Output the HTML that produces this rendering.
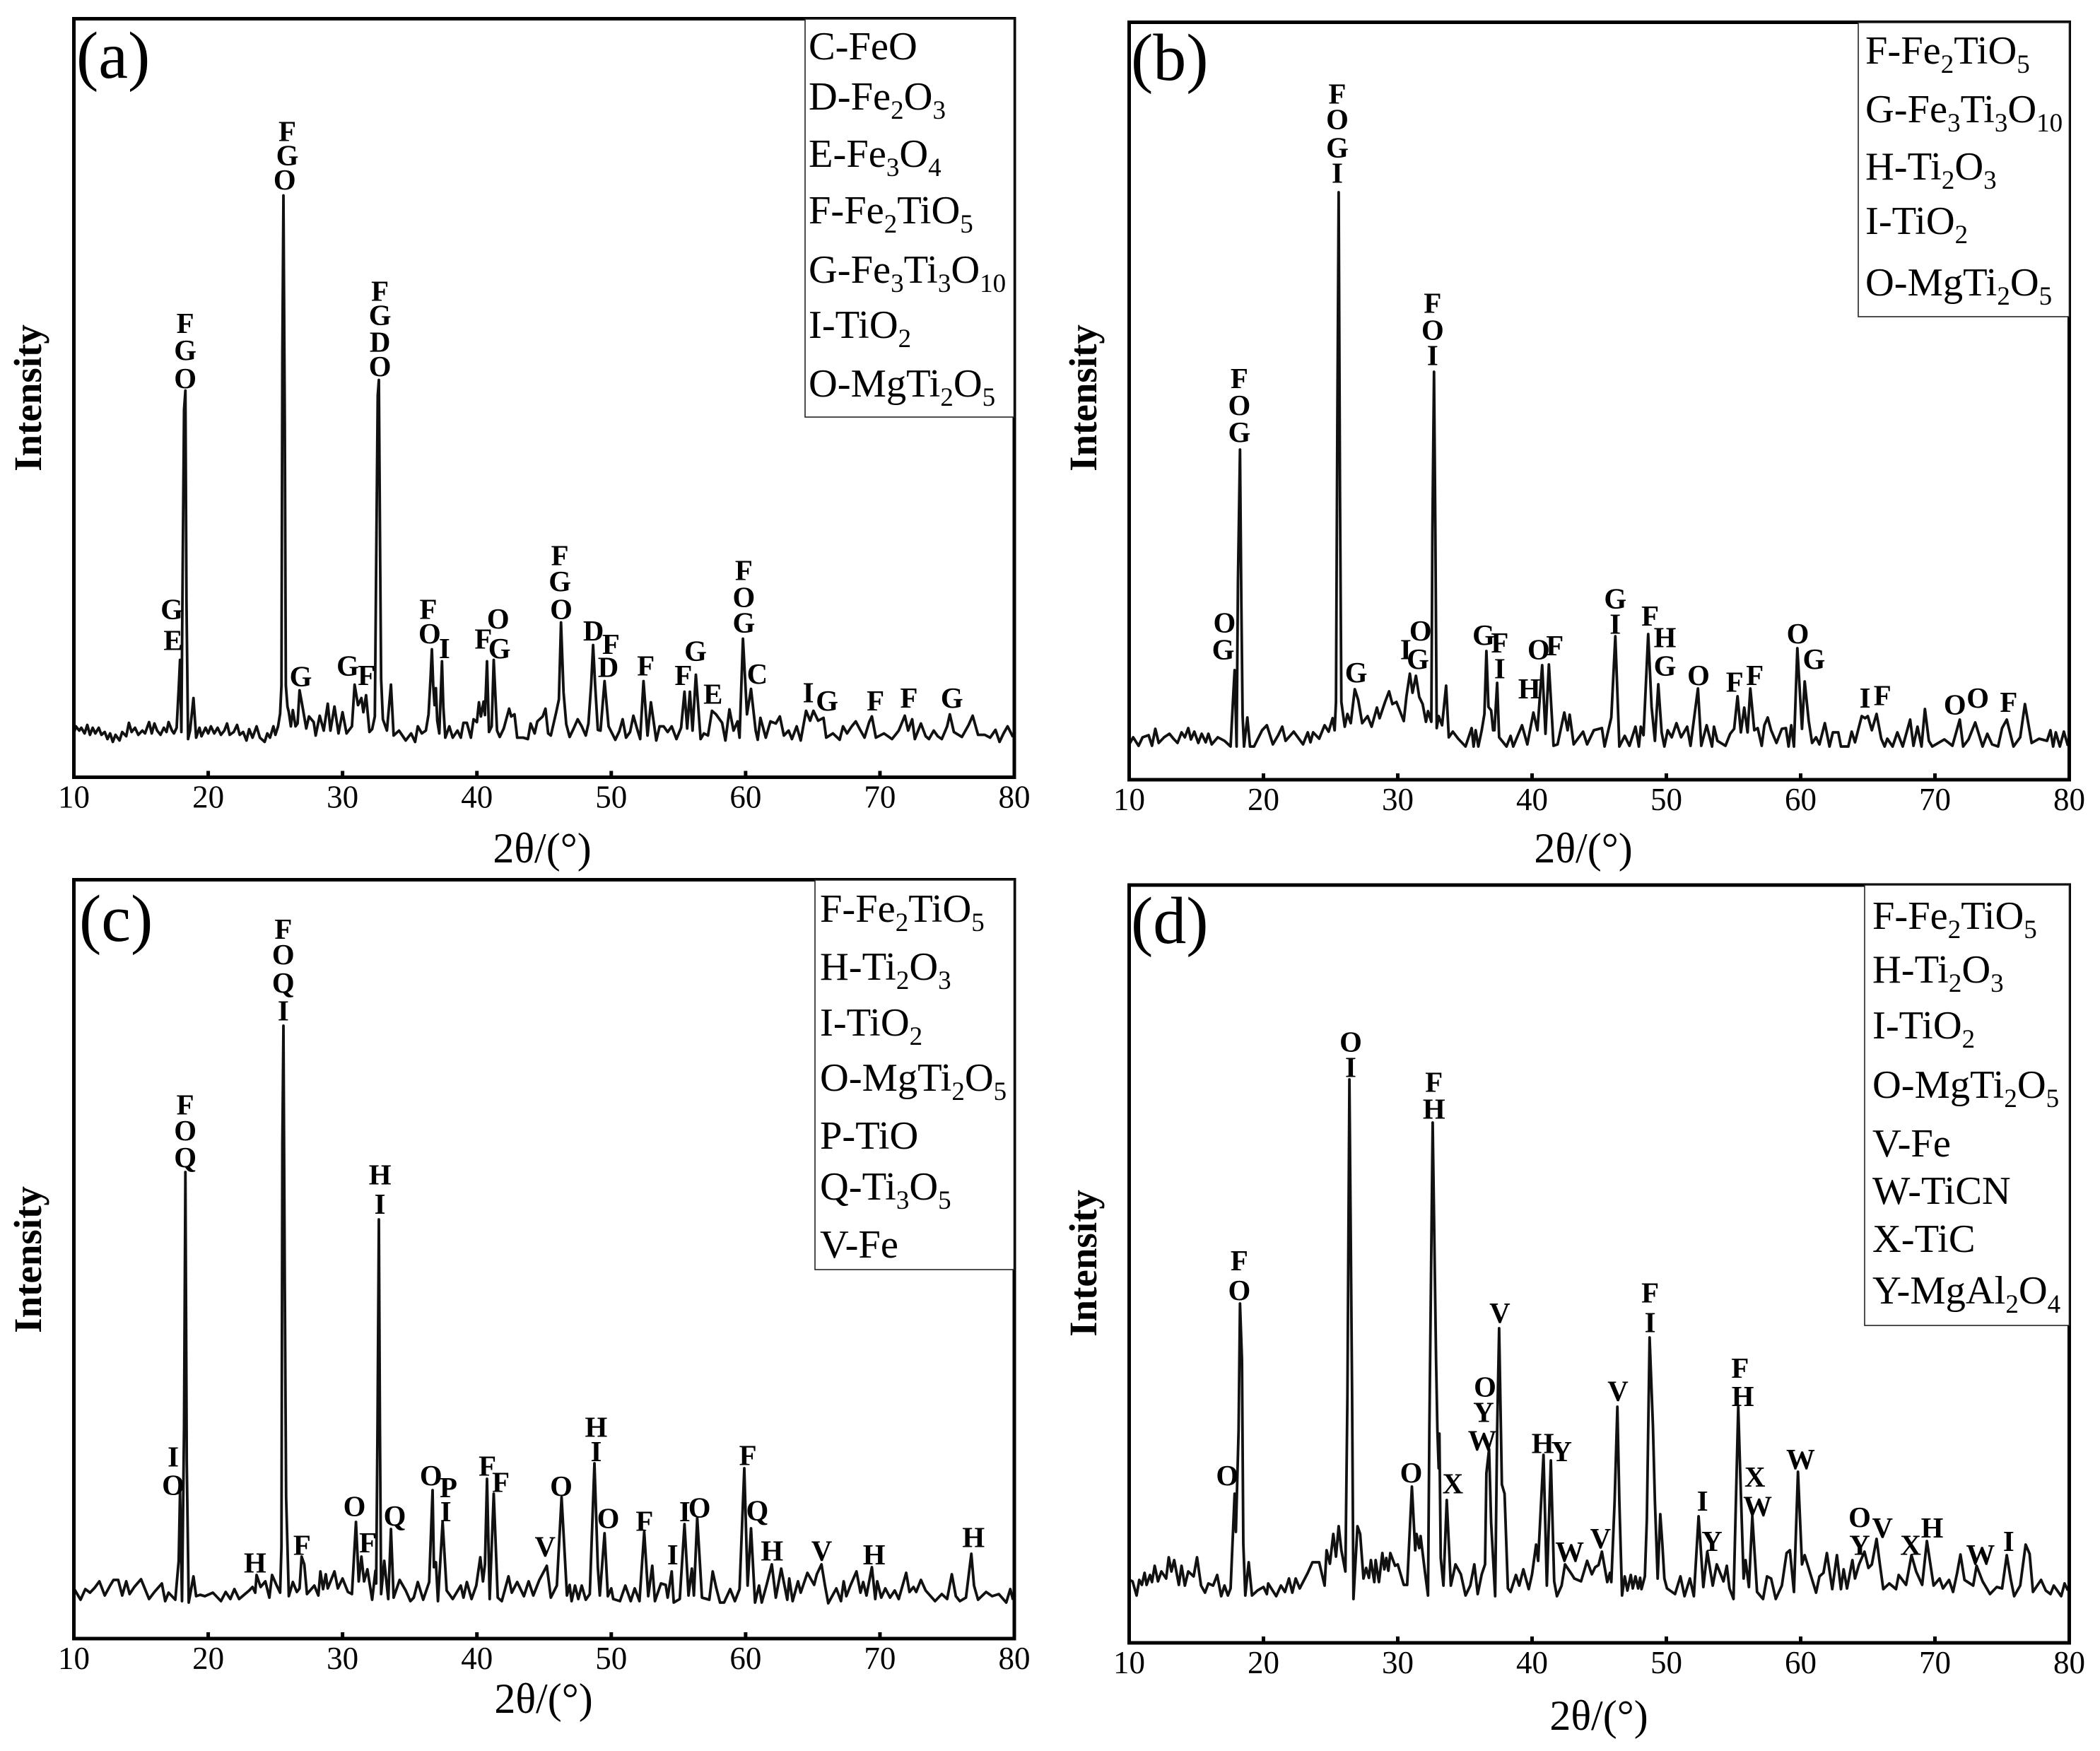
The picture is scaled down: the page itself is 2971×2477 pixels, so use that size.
<!DOCTYPE html>
<html lang="en">
<head>
<meta charset="utf-8">
<title>XRD patterns (a)-(d)</title>
<style>
html,body{margin:0;padding:0;background:#fff;}
svg{display:block;}
text{font-family:"Liberation Serif","Times New Roman",serif;fill:#000;}
.pk text{font-size:21.5px;font-weight:bold;text-anchor:middle;}
.leg{font-size:56.5px;}
.tag{font-size:94px;}
.xt{font-size:60px;text-anchor:middle;}
.yt{font-size:55px;font-weight:bold;text-anchor:middle;}
.tick{font-size:45px;text-anchor:middle;}
</style>
</head>
<body>
<svg id="chart" xmlns="http://www.w3.org/2000/svg" width="2971" height="2477" viewBox="0 0 2971 2477">
<rect width="2971" height="2477" fill="#fff"/>
<g id="plots"></g>

<!-- panel tags -->
<text class="tag" x="108" y="110">(a)</text>
<text class="tag" x="1600" y="113">(b)</text>
<text class="tag" x="112" y="1331">(c)</text>
<text class="tag" x="1600" y="1334">(d)</text>

<!-- axis titles -->
<text class="xt" x="767" y="1220">2θ/(°)</text>
<text class="xt" x="2240" y="1220">2θ/(°)</text>
<text class="xt" x="769" y="2423">2θ/(°)</text>
<text class="xt" x="2262" y="2447">2θ/(°)</text>
<text class="yt" transform="translate(58,563) rotate(-90)">Intensity</text>
<text class="yt" transform="translate(1551,563) rotate(-90)">Intensity</text>
<text class="yt" transform="translate(58,1782) rotate(-90)">Intensity</text>
<text class="yt" transform="translate(1551,1787) rotate(-90)">Intensity</text>

<!-- legends -->
<g>
<rect x="1139" y="27" width="295.5" height="563" fill="#fff" stroke="#222" stroke-width="1.6"/>
<text class="leg" x="1144" y="84">C-FeO</text>
<text class="leg" x="1144" y="155">D-Fe<tspan dy="13" font-size="37">2</tspan><tspan dy="-13">O</tspan><tspan dy="13" font-size="37">3</tspan></text>
<text class="leg" x="1144" y="236">E-Fe<tspan dy="13" font-size="37">3</tspan><tspan dy="-13">O</tspan><tspan dy="13" font-size="37">4</tspan></text>
<text class="leg" x="1144" y="316">F-Fe<tspan dy="13" font-size="37">2</tspan><tspan dy="-13">TiO</tspan><tspan dy="13" font-size="37">5</tspan></text>
<text class="leg" x="1144" y="400">G-Fe<tspan dy="13" font-size="37">3</tspan><tspan dy="-13">Ti</tspan><tspan dy="13" font-size="37">3</tspan><tspan dy="-13">O</tspan><tspan dy="13" font-size="37">10</tspan></text>
<text class="leg" x="1144" y="478">I-TiO<tspan dy="13" font-size="37">2</tspan></text>
<text class="leg" x="1144" y="561">O-MgTi<tspan dy="13" font-size="37">2</tspan><tspan dy="-13">O</tspan><tspan dy="13" font-size="37">5</tspan></text>
</g>
<g>
<rect x="2629" y="32" width="298.5" height="416" fill="#fff" stroke="#222" stroke-width="1.6"/>
<text class="leg" x="2639" y="90">F-Fe<tspan dy="13" font-size="37">2</tspan><tspan dy="-13">TiO</tspan><tspan dy="13" font-size="37">5</tspan></text>
<text class="leg" x="2639" y="173">G-Fe<tspan dy="13" font-size="37">3</tspan><tspan dy="-13">Ti</tspan><tspan dy="13" font-size="37">3</tspan><tspan dy="-13">O</tspan><tspan dy="13" font-size="37">10</tspan></text>
<text class="leg" x="2639" y="254">H-Ti<tspan dy="13" font-size="37">2</tspan><tspan dy="-13">O</tspan><tspan dy="13" font-size="37">3</tspan></text>
<text class="leg" x="2639" y="331">I-TiO<tspan dy="13" font-size="37">2</tspan></text>
<text class="leg" x="2639" y="418">O-MgTi<tspan dy="13" font-size="37">2</tspan><tspan dy="-13">O</tspan><tspan dy="13" font-size="37">5</tspan></text>
</g>
<g>
<rect x="1153" y="1245" width="281.5" height="551" fill="#fff" stroke="#222" stroke-width="1.6"/>
<text class="leg" x="1160" y="1304">F-Fe<tspan dy="13" font-size="37">2</tspan><tspan dy="-13">TiO</tspan><tspan dy="13" font-size="37">5</tspan></text>
<text class="leg" x="1160" y="1386">H-Ti<tspan dy="13" font-size="37">2</tspan><tspan dy="-13">O</tspan><tspan dy="13" font-size="37">3</tspan></text>
<text class="leg" x="1160" y="1465">I-TiO<tspan dy="13" font-size="37">2</tspan></text>
<text class="leg" x="1160" y="1543">O-MgTi<tspan dy="13" font-size="37">2</tspan><tspan dy="-13">O</tspan><tspan dy="13" font-size="37">5</tspan></text>
<text class="leg" x="1160" y="1625">P-TiO</text>
<text class="leg" x="1160" y="1697">Q-Ti<tspan dy="13" font-size="37">3</tspan><tspan dy="-13">O</tspan><tspan dy="13" font-size="37">5</tspan></text>
<text class="leg" x="1160" y="1779">V-Fe</text>
</g>
<g>
<rect x="2638" y="1252" width="289.5" height="623" fill="#fff" stroke="#222" stroke-width="1.6"/>
<text class="leg" x="2649" y="1314">F-Fe<tspan dy="13" font-size="37">2</tspan><tspan dy="-13">TiO</tspan><tspan dy="13" font-size="37">5</tspan></text>
<text class="leg" x="2649" y="1390">H-Ti<tspan dy="13" font-size="37">2</tspan><tspan dy="-13">O</tspan><tspan dy="13" font-size="37">3</tspan></text>
<text class="leg" x="2649" y="1469">I-TiO<tspan dy="13" font-size="37">2</tspan></text>
<text class="leg" x="2649" y="1553">O-MgTi<tspan dy="13" font-size="37">2</tspan><tspan dy="-13">O</tspan><tspan dy="13" font-size="37">5</tspan></text>
<text class="leg" x="2649" y="1636">V-Fe</text>
<text class="leg" x="2649" y="1703">W-TiCN</text>
<text class="leg" x="2649" y="1771">X-TiC</text>
<text class="leg" x="2649" y="1844">Y-MgAl<tspan dy="13" font-size="37">2</tspan><tspan dy="-13">O</tspan><tspan dy="13" font-size="37">4</tspan></text>
</g>

<!-- peak labels -->
<g class="pk" transform="scale(1.8996) translate(0,7)">
<g>
<text x="138" y="241">F</text><text x="138" y="261">G</text><text x="138" y="282">O</text>
<text x="128" y="454">G</text><text x="129" y="477">E</text>
<text x="214" y="98">F</text><text x="214" y="116">G</text><text x="212" y="134">O</text>
<text x="283" y="217">F</text><text x="283" y="235">G</text><text x="283" y="255">D</text><text x="283" y="273">O</text>
<text x="224" y="504">G</text><text x="259" y="496">G</text><text x="273" y="503">F</text>
<text x="319" y="454">F</text><text x="320" y="472">O</text><text x="331" y="483">I</text>
<text x="360" y="476">F</text><text x="371" y="461">O</text><text x="372" y="483">G</text>
<text x="417" y="414">F</text><text x="417" y="433">G</text><text x="418" y="454">O</text>
<text x="442" y="470">D</text><text x="455" y="480">F</text><text x="453" y="497">D</text>
<text x="481" y="496">F</text><text x="509" y="503">F</text><text x="518" y="485">G</text><text x="531" y="517">E</text>
<text x="554" y="425">F</text><text x="554" y="445">O</text><text x="554" y="464">G</text><text x="564" y="502">C</text>
<text x="602" y="516">I</text><text x="616" y="522">G</text><text x="652" y="522">F</text><text x="677" y="520">F</text><text x="709" y="520">G</text>
</g>
<g>
<text x="996" y="70">F</text><text x="996" y="89">O</text><text x="996" y="110">G</text><text x="996" y="129">I</text>
<text x="923" y="282">F</text><text x="923" y="302">O</text><text x="923" y="322">G</text>
<text x="912" y="464">O</text><text x="911" y="484">G</text><text x="1010" y="501">G</text>
<text x="1067" y="226">F</text><text x="1067" y="246">O</text><text x="1067" y="265">I</text>
<text x="1047" y="484">I</text><text x="1058" y="470">O</text><text x="1056" y="491">G</text>
<text x="1105" y="473" font-size="17">G</text><text x="1117" y="479">F</text><text x="1117" y="498">I</text>
<text x="1139" y="513">H</text><text x="1146" y="484">O</text><text x="1158" y="481">F</text>
<text x="1203" y="446">G</text><text x="1203" y="465">I</text>
<text x="1229" y="459">F</text><text x="1240" y="475">H</text><text x="1240" y="496">G</text>
<text x="1265" y="503">O</text><text x="1292" y="508">F</text><text x="1307" y="503">F</text>
<text x="1339" y="472">O</text><text x="1351" y="491">G</text>
<text x="1389" y="520">I</text><text x="1402" y="518">F</text>
<text x="1456" y="525">O</text><text x="1473" y="520">O</text><text x="1496" y="523">F</text>
</g>
<g>
<text x="138" y="823">F</text><text x="138" y="842">O</text><text x="138" y="862">Q</text>
<text x="129" y="1085">I</text><text x="129" y="1106">O</text>
<text x="211" y="692">F</text><text x="211" y="711">O</text><text x="211" y="732">Q</text><text x="211" y="753">I</text>
<text x="283" y="875">H</text><text x="283" y="897">I</text>
<text x="190" y="1164">H</text><text x="225" y="1151">F</text><text x="264" y="1122">O</text><text x="274" y="1149">F</text><text x="294" y="1129">Q</text>
<text x="321" y="1099">O</text><text x="334" y="1108">P</text><text x="332" y="1126">I</text><text x="363" y="1092">F</text><text x="373" y="1104">F</text><text x="406" y="1152">V</text>
<text x="418" y="1107">O</text><text x="444" y="1063">H</text><text x="444" y="1081">I</text><text x="453" y="1131">O</text><text x="480" y="1133">F</text>
<text x="501" y="1158">I</text><text x="510" y="1126">I</text><text x="521" y="1123">O</text><text x="557" y="1084">F</text><text x="564" y="1125">Q</text>
<text x="575" y="1155">H</text><text x="612" y="1155">V</text><text x="651" y="1158">H</text><text x="725" y="1145">H</text>
</g>
<g>
<text x="1006" y="776">O</text><text x="1006" y="795">I</text>
<text x="1068" y="806">F</text><text x="1068" y="826">H</text>
<text x="923" y="939">F</text><text x="923" y="961">O</text><text x="1117" y="978">V</text>
<text x="914" y="1099">O</text><text x="1051" y="1097">O</text><text x="1082" y="1105">X</text>
<text x="1106" y="1033">O</text><text x="1105" y="1052">Y</text><text x="1104" y="1073">W</text>
<text x="1149" y="1075">H</text><text x="1163" y="1081">Y</text><text x="1169" y="1156">W</text><text x="1192" y="1146">V</text>
<text x="1205" y="1036">V</text><text x="1229" y="963">F</text><text x="1229" y="985">I</text>
<text x="1296" y="1019">F</text><text x="1298" y="1040">H</text>
<text x="1268" y="1118">I</text><text x="1275" y="1148">Y</text><text x="1307" y="1100">X</text><text x="1309" y="1122">W</text><text x="1341" y="1087">W</text>
<text x="1385" y="1130">O</text><text x="1385" y="1151">Y</text><text x="1402" y="1138">V</text><text x="1423" y="1151">X</text><text x="1439" y="1138">H</text><text x="1475" y="1158">W</text><text x="1496" y="1148">I</text>
</g>
</g>
</svg>

<script>
const xTickValues = [10,20,30,40,50,60,70,80];
const xDomain = [10,80];

const thetaA = [
10,10.15,10.4,10.55,10.8,11,11.2,11.4,11.6,11.85,
12.05,12.3,12.5,12.7,12.9,13.1,13.4,13.6,13.9,14.1,
14.3,14.55,14.8,15.1,15.3,15.6,15.8,16,16.2,16.45,
16.7,16.9,17.05,17.3,17.45,17.65,17.8,17.9,18,18.1,
18.2,18.3,18.38,18.5,18.65,18.9,19.1,19.35,19.5,19.8,
20,20.2,20.45,20.7,20.95,21.2,21.4,21.6,21.9,22.15,
22.35,22.6,22.85,23.05,23.3,23.6,23.85,24.2,24.4,24.6,
24.85,25,25.2,25.35,25.45,25.52,25.6,25.7,25.78,25.9,
26,26.15,26.3,26.5,26.65,26.8,27,27.3,27.5,27.85,
28,28.3,28.6,28.9,29.1,29.4,29.7,30,30.3,30.7,
30.9,31.15,31.4,31.55,31.75,32,32.2,32.4,32.5,32.62,
32.7,32.8,32.87,33,33.3,33.6,33.8,34.2,34.7,35.1,
35.4,35.6,35.9,36.2,36.4,36.55,36.65,36.75,36.85,36.95,
37.05,37.2,37.4,37.5,37.65,37.95,38.2,38.55,38.8,39,
39.25,39.55,39.75,40,40.15,40.3,40.5,40.6,40.75,40.9,
41.1,41.25,41.5,41.7,42,42.4,42.55,42.8,43,43.45,
43.8,44,44.3,44.5,44.9,45.1,45.3,45.5,45.9,46.1,
46.26,46.45,46.65,46.9,47.2,47.5,47.8,48.1,48.3,48.5,
48.65,48.8,49,49.2,49.5,49.8,50.3,50.6,50.85,51.1,
51.4,51.65,51.9,52.15,52.4,52.7,52.95,53.35,53.6,53.9,
54.2,54.5,54.85,55.2,55.45,55.65,55.85,56.05,56.3,56.65,
56.9,57.2,57.5,57.8,58.25,58.5,58.8,59.1,59.4,59.55,
59.8,60.1,60.4,60.75,60.9,61.1,61.5,61.85,62.25,62.55,
62.85,63.2,63.45,63.8,64.1,64.5,64.8,65.05,65.4,65.8,
66,66.5,67,67.25,67.55,67.9,68.2,68.5,68.85,69.2,
69.4,69.7,70.3,70.9,71.4,71.85,72.1,72.4,72.6,73.05,
73.4,73.65,74,74.3,74.6,75,75.2,75.5,76.1,76.6,
76.9,77.3,77.8,78.2,78.6,78.9,79.2,79.5,79.9
];
const intensityA = [
62,72,66,70,62,74,60,70,62,70,
60,64,54,62,50,60,52,64,58,77,
64,70,60,66,62,78,62,76,66,60,
70,64,78,66,62,70,125,166,64,300,
520,547,250,54,66,112,56,70,58,70,
62,72,62,70,60,66,76,60,64,74,
60,64,52,68,56,72,56,50,62,56,
72,60,72,90,130,600,823,500,130,100,
92,72,95,72,76,123,102,69,86,78,
59,87,66,104,66,100,62,92,62,72,
131,102,112,92,116,64,68,86,300,540,
562,300,139,82,66,131,59,66,52,62,
50,72,62,66,89,140,181,130,102,126,
80,62,164,100,56,72,56,66,56,77,
77,56,82,78,106,86,107,88,164,64,
72,166,66,57,69,97,86,89,56,56,
54,76,62,79,86,97,62,59,92,110,
219,120,75,57,69,82,72,59,76,130,
187,130,67,66,136,72,53,65,82,56,
64,87,70,54,136,59,106,52,72,72,
64,72,54,70,121,69,121,66,145,54,
62,59,94,89,77,52,96,66,79,56,
196,89,125,66,53,84,56,79,76,86,
59,66,54,72,52,94,80,94,80,84,
56,62,53,72,62,72,79,68,56,78,
86,56,62,54,66,87,66,82,54,76,
58,54,66,58,54,72,89,64,57,74,
87,60,60,56,67,50,62,72,57
];

const thetaB = [
10,10.3,10.7,11,11.45,11.7,11.95,12.2,12.6,13,
13.3,13.6,13.9,14.15,14.4,14.6,14.85,15.15,15.4,15.7,
15.9,16.15,16.6,17.1,17.55,17.75,17.85,18,18.1,18.25,
18.35,18.45,18.55,18.8,19,19.3,19.9,20.25,20.7,21.1,
21.4,21.65,22.25,22.95,23.3,23.5,23.7,24.15,24.55,24.85,
25.15,25.3,25.4,25.5,25.6,25.7,25.8,26.05,26.25,26.5,
26.8,27.05,27.35,27.75,28.05,28.45,28.65,29.05,29.35,29.6,
29.9,30.45,30.65,30.9,31.1,31.35,31.6,31.85,32.1,32.25,
32.5,32.58,32.7,32.8,32.9,33.05,33.3,33.6,33.8,34.1,
34.5,35.05,35.5,35.65,35.8,36,36.25,36.45,36.6,36.75,
36.95,37.1,37.2,37.4,37.55,38.1,38.4,38.6,39.25,39.65,
40.1,40.4,40.75,41,41.25,41.6,41.9,42.4,42.65,42.8,
43.1,43.8,44.1,44.6,45.2,45.4,45.9,46.2,46.5,46.9,
47.25,47.7,47.95,48.1,48.3,48.65,48.9,49.15,49.4,49.65,
49.85,50.1,50.4,50.75,51.1,51.55,51.8,52.35,52.6,53,
53.4,53.55,53.8,54.4,54.75,55.05,55.3,55.55,55.8,56.05,
56.25,56.55,56.8,57.1,57.3,57.55,57.8,58.2,58.6,58.9,
59.1,59.3,59.5,59.75,60.1,60.3,60.6,60.85,61.15,61.4,
61.8,62.15,62.4,62.8,63,63.55,63.8,64.05,64.55,64.8,
65,65.3,65.65,66,66.25,66.45,66.85,67.2,67.6,68.15,
68.4,68.7,69,69.25,69.55,69.8,70.7,71.3,71.85,72.1,
72.5,73,73.55,73.9,74.25,74.7,75,75.35,75.85,76.35,
76.7,77.2,77.75,78.35,78.6,78.8,79,79.3,79.6,79.9
];
const intensityB = [
50,60,48,60,63,48,72,52,60,65,
58,52,67,60,73,57,68,52,65,53,
65,50,60,55,47,120,155,47,280,467,
250,90,47,88,47,47,70,77,50,63,
75,55,68,50,67,53,67,58,77,68,
87,70,110,500,831,400,110,75,93,80,
128,113,80,90,75,102,87,110,125,107,
110,83,118,150,123,147,117,107,82,97,
82,350,577,350,73,90,77,133,60,68,
58,47,73,47,70,47,70,93,182,103,
98,70,70,137,60,47,62,47,77,50,
95,70,162,65,163,48,50,95,70,92,
50,68,50,70,73,47,88,203,47,62,
48,75,47,75,63,206,103,55,135,67,
47,70,60,80,60,75,48,129,48,77,
47,75,55,48,65,72,118,67,102,67,
129,70,73,48,77,88,70,52,72,73,
47,77,47,186,72,139,83,52,60,50,
80,47,67,67,47,47,68,53,90,87,
90,70,93,58,47,58,47,67,47,85,
48,75,47,100,55,47,57,48,85,47,
57,81,47,65,50,47,73,85,47,60,
107,52,58,55,70,47,67,47,68,48
];

const thetaC = [
10,10.5,10.85,11.2,11.55,11.9,12.3,12.7,12.95,13.3,
13.6,13.9,14.15,14.5,15,15.6,16,16.55,16.8,17.05,
17.55,17.8,17.9,18.05,18.2,18.3,18.4,18.55,18.9,19.1,
19.4,19.75,20.35,20.95,21.3,21.65,21.95,22.3,23.05,23.3,
23.5,23.6,23.9,24.25,24.55,24.75,25.1,25.35,25.45,25.52,
25.6,25.7,25.8,26,26.3,26.6,26.8,26.95,27.15,27.35,
27.9,28.2,28.35,28.55,28.75,28.9,29.4,29.65,30,30.4,
30.7,31,31.2,31.4,31.6,31.85,32.2,32.45,32.5,32.6,
32.7,32.78,32.87,33.1,33.4,33.6,33.8,34.25,34.7,35.05,
35.3,35.6,36,36.45,36.7,36.8,36.95,37.1,37.45,37.75,
38.2,38.8,39,39.25,39.6,39.95,40.25,40.45,40.6,40.75,
40.95,41.25,41.55,41.85,42.35,42.6,43,43.5,43.85,44.2,
44.65,45.2,45.5,45.95,46.3,46.7,46.9,47.05,47.3,47.55,
47.8,48.1,48.4,48.75,49,49.15,49.5,49.75,50,50.15,
50.65,51.05,51.45,51.75,52.1,52.45,52.75,53.05,53.25,53.7,
54.05,54.2,54.5,54.65,55.1,55.45,55.75,56,56.15,56.4,
56.75,57.3,57.55,57.8,58.1,58.4,58.85,59.2,59.55,59.9,
60.15,60.4,60.7,61,61.2,61.55,61.95,62.25,62.65,63.1,
63.25,63.5,63.9,64.1,64.6,65.1,65.3,65.65,65.9,66.15,
66.75,67.1,67.3,67.5,67.8,68.25,68.55,68.75,69,69.4,
69.65,69.8,70.1,70.4,70.75,71.1,71.4,71.95,72.2,72.5,
72.7,73.05,73.4,74.1,74.6,75,75.35,75.65,75.95,76.4,
76.8,77,77.3,77.9,78.35,78.85,79.4,79.7,79.9
];
const intensityC = [
71,55,70,65,72,81,61,75,83,83,
61,81,63,73,84,56,66,78,53,65,
55,110,208,53,300,660,250,51,88,60,
62,60,65,53,66,56,70,56,68,73,
65,90,73,81,58,90,75,65,130,700,
867,500,200,60,80,66,71,116,105,63,
75,61,95,70,91,71,95,71,85,66,
63,165,81,116,81,98,55,96,78,300,
593,300,63,110,56,155,58,83,68,53,
58,80,55,80,210,101,108,53,165,68,
56,75,58,80,56,75,115,81,105,226,
56,205,58,53,88,65,80,60,81,61,
83,103,58,75,200,61,76,53,75,56,
75,55,63,248,101,61,149,60,71,56,
53,75,53,71,53,151,60,103,53,78,
76,58,95,51,56,162,61,99,61,171,
58,55,95,73,51,51,70,53,70,241,
75,156,51,75,51,75,105,58,99,55,
85,53,81,65,93,76,91,105,76,50,
71,53,81,60,75,95,65,80,61,101,
56,81,58,71,58,68,56,93,66,73,
66,83,68,53,63,56,91,60,53,58,
120,75,55,66,60,63,51,70,55
];

const thetaD = [
10,10.25,10.55,10.75,10.95,11.15,11.3,11.55,11.7,11.9,
12.15,12.4,12.75,12.95,13.15,13.35,13.7,13.9,14.15,14.4,
14.8,15.05,15.35,15.65,15.9,16.25,16.55,16.85,17.1,17.35,
17.55,17.85,17.95,18.15,18.25,18.4,18.5,18.65,18.9,19.15,
19.55,20,20.25,20.35,20.95,21.3,21.6,21.9,22.15,22.4,
22.7,23.3,23.65,24.15,24.55,24.7,24.95,25.2,25.4,25.6,
25.8,26.1,26.25,26.4,26.6,26.7,27,27.2,27.45,27.65,
27.85,28,28.25,28.35,28.6,28.85,29,29.15,29.3,29.45,
29.8,30,30.45,30.7,31.05,31.3,31.4,31.6,31.7,32,
32.25,32.35,32.6,32.85,32.95,33.05,33.1,33.2,33.4,33.65,
33.95,34.3,34.7,35.05,35.4,35.7,35.95,36.25,36.5,36.6,
36.8,36.95,37.25,37.4,37.55,37.75,37.95,38.2,38.4,38.8,
39.05,39.35,39.75,40,40.3,40.45,40.85,41.1,41.4,41.65,
41.85,42.2,42.45,42.95,43.15,43.65,43.85,44.1,44.45,44.7,
44.95,45.2,45.6,45.8,45.9,46.15,46.35,46.5,46.7,46.9,
47.1,47.35,47.5,47.7,47.9,48.05,48.15,48.4,48.55,48.75,
49,49.15,49.35,49.55,49.7,49.85,50.05,50.65,51.05,51.35,
51.75,52.05,52.4,52.75,53.05,53.45,53.75,54.25,54.5,54.7,
55,55.35,55.5,55.75,55.9,56.15,56.4,56.75,57.2,57.5,
57.8,58.15,58.6,58.95,59.2,59.5,59.8,60.1,60.3,61.15,
61.4,61.7,61.95,62.35,62.7,63,63.2,63.45,63.85,64.05,
64.35,64.75,65.05,65.3,65.65,65.9,66.15,66.6,67.1,67.3,
67.85,68.25,68.6,69.05,69.4,69.9,70.35,70.6,71.05,71.35,
71.65,71.9,72.2,72.85,73.1,73.55,74.1,74.6,75,75.35,
75.65,75.9,76.35,76.75,77.05,77.3,77.9,78.25,78.6,78.85,
79.4,79.65,79.9
];
const intensityD = [
89,87,67,89,82,99,82,96,86,109,
87,101,91,121,101,117,82,109,81,101,
94,121,81,71,84,81,96,66,81,67,
77,211,157,300,480,400,140,67,114,67,
74,79,69,84,66,81,72,91,71,91,
77,99,114,114,81,131,112,154,122,165,
131,101,350,797,350,62,165,154,91,106,
92,117,86,117,86,127,104,120,102,127,
109,111,82,82,221,131,154,134,151,104,
67,300,736,400,300,247,296,120,81,202,
81,111,97,67,81,111,69,97,111,240,
274,170,66,300,445,224,211,77,72,96,
81,104,76,97,139,116,266,81,258,87,
66,81,111,97,91,87,100,116,97,107,
110,129,86,99,86,200,334,200,67,94,
74,96,77,94,77,92,76,94,175,432,
307,200,91,182,140,91,77,69,94,66,
91,66,179,79,129,81,111,87,109,77,
62,334,240,91,117,79,179,72,62,94,
91,62,81,127,131,72,242,111,124,71,
94,99,127,76,124,76,104,77,117,91,
111,129,106,111,147,111,76,84,76,96,
82,124,101,82,144,81,91,77,89,72,
99,125,89,81,109,87,69,79,77,124,
89,66,81,139,126,72,89,74,69,81,
66,84,74
];

const NS = 'http://www.w3.org/2000/svg';
const plots = document.getElementById('plots');

function make(tag, attrs, parent) {
  const el = document.createElementNS(NS, tag);
  for (const k in attrs) el.setAttribute(k, attrs[k]);
  parent.appendChild(el);
  return el;
}

function drawPanel(id, box, thetas, intensities) {
  const xScale = t => box.left + (t - xDomain[0]) / (xDomain[1] - xDomain[0]) * (box.right - box.left);
  const yScale = v => box.bottom - v;

  const g = make('g', {}, plots);
  
  

  const n = Math.min(thetas.length, intensities.length);
  let d = '';
  for (let i = 0; i < n; i++) {
    d += (i ? 'L' : 'M') + xScale(thetas[i]).toFixed(1) + ' ' + yScale(intensities[i]).toFixed(1);
  }
  const trace = make('path', {d: d, fill: 'none', stroke: '#111', 'stroke-width': 3.8, 'stroke-linejoin': 'round'}, g);
  
  

  const frame = make('rect', {x: box.left, y: box.top, width: box.right - box.left, height: box.bottom - box.top, fill: 'none', stroke: '#000', 'stroke-width': 5}, g);
  
  

  xTickValues.forEach(t => {
    const x = xScale(t);
    if (t > xDomain[0] && t < xDomain[1]) {
      const tick = make('line', {x1: x, x2: x, y1: box.bottom, y2: box.bottom - 9, stroke: '#000', 'stroke-width': 5}, g);
      
      
    }
    const label = make('text', {x: x, y: box.bottom + 43, class: 'tick'}, g);
    
    
    label.textContent = String(t);
  });
}

drawPanel('a', {left: 104.5, right: 1435, top: 26.5, bottom: 1099.5}, thetaA, intensityA);
drawPanel('b', {left: 1597.5, right: 2927.5, top: 31.5, bottom: 1103}, thetaB, intensityB);
drawPanel('c', {left: 104.5, right: 1435, top: 1244.5, bottom: 2318}, thetaC, intensityC);
drawPanel('d', {left: 1597.5, right: 2927.5, top: 1252, bottom: 2324}, thetaD, intensityD);
</script>
</body>
</html>
